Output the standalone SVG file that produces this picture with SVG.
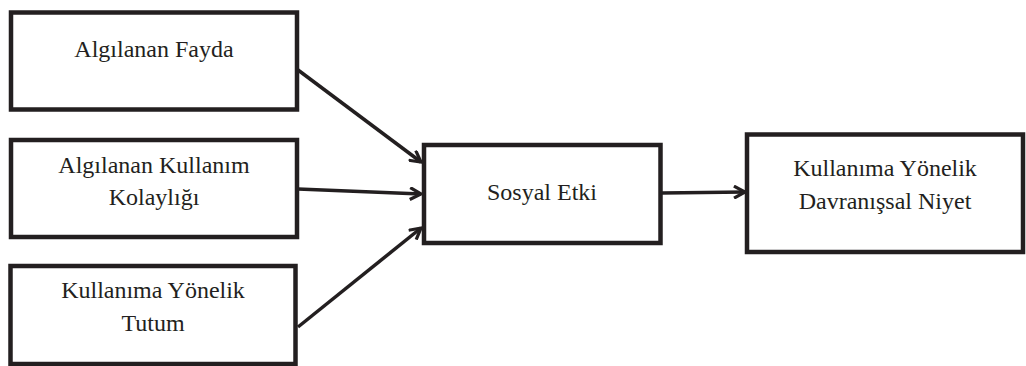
<svg xmlns="http://www.w3.org/2000/svg" width="1026" height="366" viewBox="0 0 1026 366">
<defs>
<style>
.box{fill:#fff;stroke:#231f20;stroke-width:4.5}
.lbl{font-family:'Liberation Serif','DejaVu Serif',serif;font-size:24px;fill:#231f20;text-anchor:middle}
.con{stroke:#231f20;stroke-width:3.5;fill:none}
</style>
<marker id="ah" viewBox="0 0 14 14" refX="12" refY="7" markerWidth="14" markerHeight="14" markerUnits="userSpaceOnUse" orient="auto">
<path d="M1,1 L12,7 L1,13" fill="none" stroke="#231f20" stroke-width="3.2" stroke-linejoin="miter"/>
</marker>
</defs>
<rect width="1026" height="366" fill="#fff"/>
<g id="connectors">
<line class="con" x1="298" y1="70" x2="421" y2="162" marker-end="url(#ah)"/>
<line class="con" x1="298" y1="189" x2="421" y2="194" marker-end="url(#ah)"/>
<line class="con" x1="298" y1="327" x2="421" y2="228" marker-end="url(#ah)"/>
<line class="con" x1="662" y1="193" x2="745" y2="192" marker-end="url(#ah)"/>
</g>
<g id="n1"><rect class="box" x="11" y="12.5" width="286" height="97"/><text class="lbl" font-family="Liberation Serif, serif" x="154" y="57">Algılanan Fayda</text></g>
<g id="n2"><rect class="box" x="11" y="140" width="286" height="97"/><text class="lbl" font-family="Liberation Serif, serif" x="154" y="173">Algılanan Kullanım</text><text class="lbl" font-family="Liberation Serif, serif" x="154" y="205">Kolaylığı</text></g>
<g id="n3"><rect class="box" x="10.5" y="266" width="285" height="98"/><text class="lbl" font-family="Liberation Serif, serif" x="153" y="298">Kullanıma Yönelik</text><text class="lbl" font-family="Liberation Serif, serif" x="153" y="331">Tutum</text></g>
<g id="n4"><rect class="box" x="424" y="145" width="236.5" height="98"/><text class="lbl" font-family="Liberation Serif, serif" x="542" y="200">Sosyal Etki</text></g>
<g id="n5"><rect class="box" x="747" y="134.5" width="276" height="117.5"/><text class="lbl" font-family="Liberation Serif, serif" x="885" y="176">Kullanıma Yönelik</text><text class="lbl" font-family="Liberation Serif, serif" x="885" y="209">Davranışsal Niyet</text></g>
</svg>
